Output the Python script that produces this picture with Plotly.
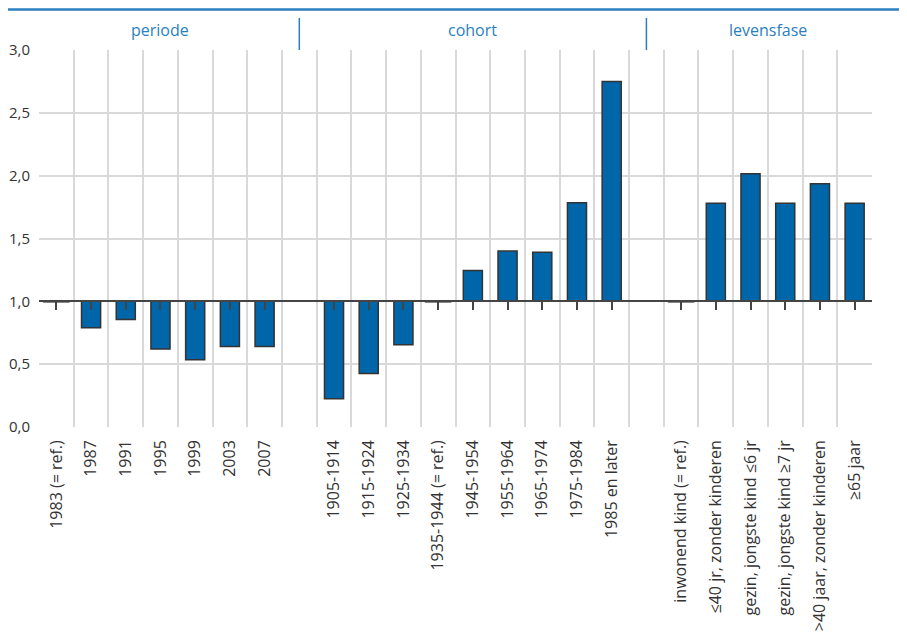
import plotly.graph_objects as go

categories = ["1983 (= ref.)", "1987", "1991", "1995", "1999", "2003", "2007", " ",
              "1905-1914", "1915-1924", "1925-1934", "1935-1944 (= ref.)", "1945-1954",
              "1955-1964", "1965-1974", "1975-1984", "1985 en later", "  ",
              "inwonend kind (= ref.)", "≤40 jr, zonder kinderen", "gezin, jongste kind ≤6 jr",
              "gezin, jongste kind ≥7 jr", ">40 jaar, zonder kinderen", "≥65 jaar"]
values = [1.0, 0.79, 0.855, 0.62, 0.535, 0.64, 0.64, None,
          0.225, 0.425, 0.655, 1.0, 1.245,
          1.40, 1.39, 1.785, 2.75, None,
          1.0, 1.78, 2.015, 1.78, 1.935, 1.78]
groups = ["periode", "cohort", "levensfase"]
group_spans = [(0, 6), (8, 16), (18, 23)]
separators_idx = [7, 17]
baseline = 1.0

BLUE = "#0066aa"
HEAD = "#2b7fc1"
TXT = "#333333"
GRID = "#d9d9d9"

bar_y = [None if v is None else v - baseline for v in values]
real_cats = [c for c, v in zip(categories, values) if v is not None]
ref_cats = [c for c, v in zip(categories, values) if v is not None and v == baseline]

fig = go.Figure()
fig.add_trace(go.Bar(x=categories, y=bar_y, base=baseline,
                     marker=dict(color=BLUE, line=dict(color="#333333", width=1.5)),
                     showlegend=False, hoverinfo="skip"))
fig.add_trace(go.Scatter(x=ref_cats, y=[baseline] * len(ref_cats), xaxis="x2", yaxis="y",
                         mode="markers",
                         marker=dict(symbol="line-ew", size=19, line=dict(color="#333333", width=2.5)),
                         showlegend=False, hoverinfo="skip"))

n = len(categories)
PH = 377
PW = 833
L, T = 31, 42
fig.update_layout(
    width=899, height=635,
    margin=dict(l=L, r=35, t=T, b=216),
    paper_bgcolor="white", plot_bgcolor="white",
    separators=", ",
    bargap=0.45,
    font=dict(family="Open Sans", color=TXT, size=16),
    xaxis=dict(type="category", categoryorder="array", categoryarray=categories,
               range=[-0.5, n - 0.5], tickson="boundaries", showgrid=True,
               gridcolor=GRID, gridwidth=2, ticks="", ticklabelstandoff=9,
               tickangle=-90, automargin=False,
               tickfont=dict(size=16, color=TXT), showline=False, zeroline=False),
    xaxis2=dict(type="category", categoryorder="array", categoryarray=categories,
                range=[-0.5, n - 0.5], overlaying="x", anchor="free", position=baseline / 3.0,
                side="bottom", showline=True, linecolor="#444444", linewidth=1.5,
                ticks="outside", ticklen=8, tickwidth=1.5, tickcolor="#444444",
                tickvals=real_cats, showticklabels=False, showgrid=False, zeroline=False),
    yaxis=dict(range=[0, 3.0], dtick=0.5, tickformat=".1f", showgrid=True,
               gridcolor=GRID, gridwidth=2, zeroline=False, showline=False,
               ticks="outside", ticklen=5, tickcolor="rgba(0,0,0,0)", automargin=False,
               tickfont=dict(size=15, color=TXT)),
)

for g, (a, b) in zip(groups, group_spans):
    fig.add_annotation(x=(a + b) / 2, y=1 + 20 / PH, xref="x", yref="paper",
                       text=g, showarrow=False, yanchor="middle",
                       font=dict(size=16, color=HEAD, family="Open Sans"))
for s in separators_idx:
    fig.add_shape(type="line", xref="x", yref="paper", x0=s, x1=s,
                  y0=1.0, y1=1 + 32 / PH, line=dict(color=HEAD, width=1.5))
fig.add_shape(type="line", xref="paper", yref="paper", x0=-L / PW, x1=(899 - L) / PW,
              y0=1 + (T - 1.5) / PH, y1=1 + (T - 1.5) / PH, line=dict(color=HEAD, width=2.5))

fig.write_html("out.html")
